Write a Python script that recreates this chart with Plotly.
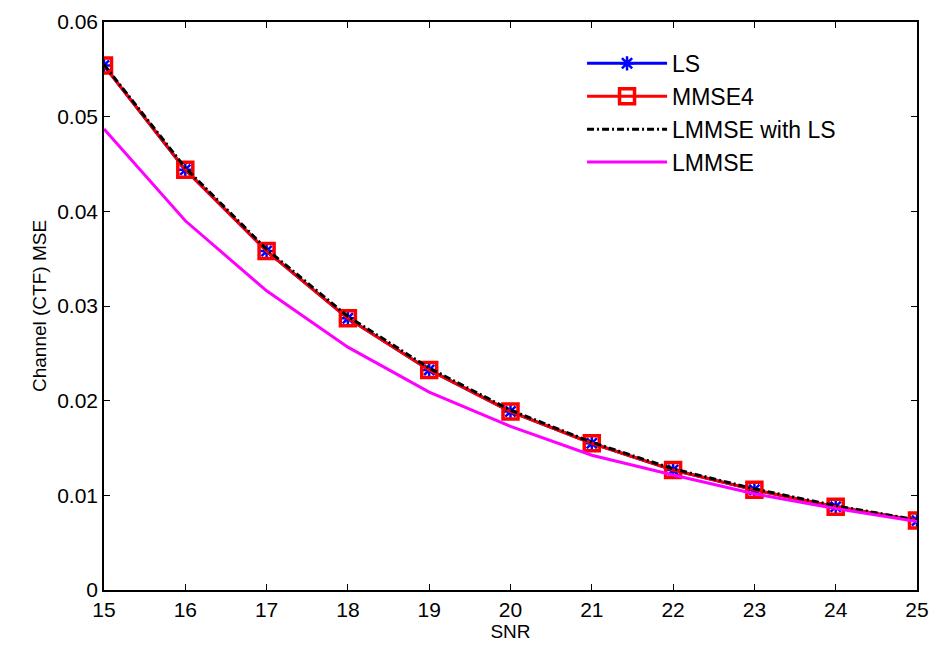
import plotly.graph_objects as go

snr = [15, 16, 17, 18, 19, 20, 21, 22, 23, 24, 25]
ls_mse = [0.0554, 0.0444, 0.0358, 0.0287, 0.02325, 0.01885, 0.0155, 0.01267, 0.01058, 0.0088, 0.00733]
mmse4_mse = [0.0554, 0.0444, 0.0358, 0.0287, 0.02325, 0.01885, 0.0155, 0.01267, 0.01058, 0.0088, 0.00733]
lmmse_ls_mse = [0.0555, 0.0446, 0.0360, 0.0289, 0.02345, 0.01900, 0.0156, 0.01280, 0.01068, 0.0089, 0.00740]
lmmse_mse = [0.0487, 0.0390, 0.0316, 0.02565, 0.0209, 0.01728, 0.01424, 0.01215, 0.01016, 0.0086, 0.00723]

x_ticks = list(range(15, 26))
y_ticks = [0, 0.01, 0.02, 0.03, 0.04, 0.05, 0.06]
y_tick_text = ["0", "0.01", "0.02", "0.03", "0.04", "0.05", "0.06"]

font_family = "Liberation Sans, Arial, sans-serif"

fig = go.Figure()
fig.add_trace(go.Scatter(
    x=snr, y=ls_mse, name="LS", mode="lines+markers",
    line=dict(color="#0000ff", width=3),
    marker=dict(symbol="asterisk-open", size=12, color="#0000ff",
                line=dict(color="#0000ff", width=2.5)),
))
fig.add_trace(go.Scatter(
    x=snr, y=mmse4_mse, name="MMSE4", mode="lines+markers",
    line=dict(color="#ff0000", width=3),
    marker=dict(symbol="square-open", size=15, color="#ff0000",
                line=dict(color="#ff0000", width=3.5)),
))
fig.add_trace(go.Scatter(
    x=snr, y=lmmse_ls_mse, name="LMMSE with LS", mode="lines",
    line=dict(color="#000000", width=3, dash="7px,3px,2px,3px"),
))
fig.add_trace(go.Scatter(
    x=snr, y=lmmse_mse, name="LMMSE", mode="lines",
    line=dict(color="#ff00ff", width=3),
))

axis_common = dict(
    showline=True, linecolor="#000000", linewidth=1.5, mirror="ticks",
    ticks="inside", ticklen=6, tickcolor="#000000", tickwidth=1,
    showgrid=False, zeroline=False,
    tickfont=dict(family=font_family, size=21, color="#000000"),
)

fig.update_layout(
    width=939, height=650,
    margin=dict(l=104, r=10, t=12, b=60),
    paper_bgcolor="#ffffff", plot_bgcolor="#ffffff",
    font=dict(family=font_family, color="#000000"),
    xaxis=dict(
        range=[15, 25], tickvals=x_ticks,
        title=dict(text="SNR", font=dict(family=font_family, size=19), standoff=3),
        **axis_common,
    ),
    yaxis=dict(
        range=[0, 0.06], tickvals=y_ticks, ticktext=y_tick_text,
        title=dict(text="Channel (CTF) MSE", font=dict(family=font_family, size=19), standoff=6),
        **axis_common,
    ),
    legend=dict(
        x=0.588, y=0.965, xanchor="left", yanchor="top",
        bgcolor="rgba(255,255,255,0)", borderwidth=0,
        font=dict(family=font_family, size=23, color="#000000"),
        itemwidth=80, tracegroupgap=0,
    ),
    showlegend=True,
)

fig.write_html("out.html")
